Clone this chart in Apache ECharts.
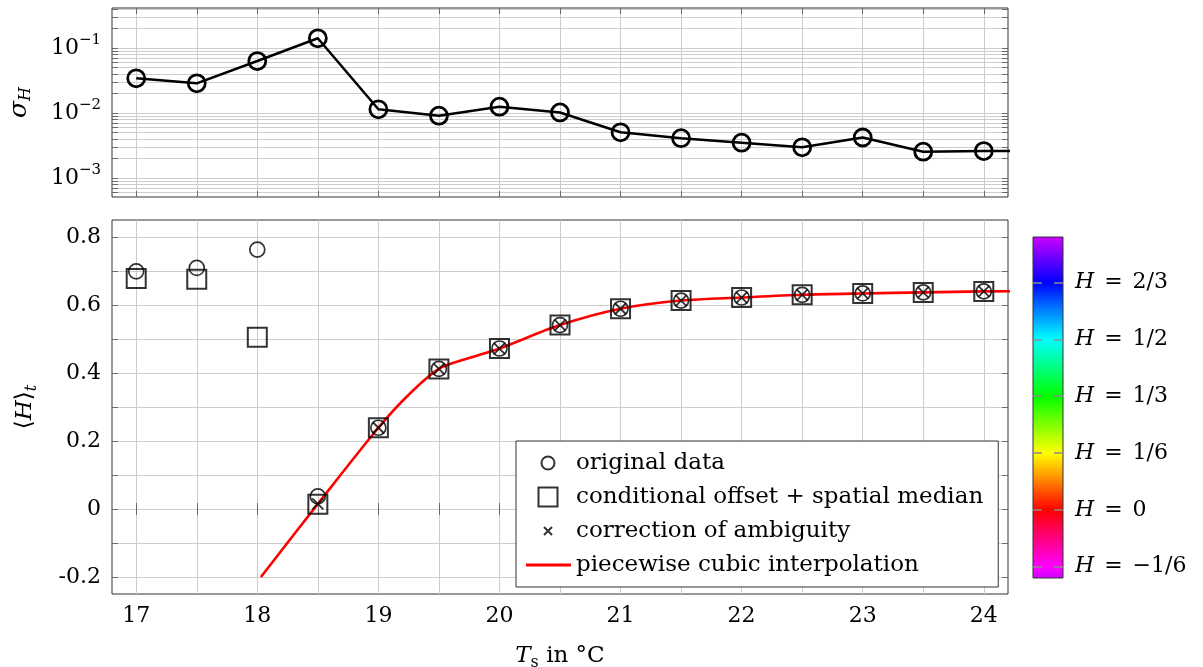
<!DOCTYPE html>
<html><head><meta charset="utf-8">
<script src="https://cdn.jsdelivr.net/npm/echarts@6/dist/echarts.min.js"></script>
<style>html,body{margin:0;padding:0;background:#fff}#c{width:1203px;height:667px}</style>
</head><body><div id="c"></div>
<script>
// ---------- data ----------
const temps = [17, 17.5, 18, 18.5, 19, 19.5, 20, 20.5, 21, 21.5, 22, 22.5, 23, 23.5, 24];
const sigmaTemps = [17, 17.5, 18, 18.5, 19, 19.5, 20, 20.5, 21, 21.5, 22, 22.5, 23, 23.5, 24, 24.5];
const sigmaH = [0.0342, 0.0286, 0.063, 0.141, 0.0114, 0.0091, 0.0125, 0.0102, 0.00505, 0.0041, 0.00349, 0.00297, 0.0042, 0.00254, 0.0026, 0.0026];
const originalH = [0.699, 0.709, 0.763, 0.037, 0.239, 0.412, 0.472, 0.541, 0.589, 0.613, 0.622, 0.630, 0.634, 0.637, 0.640];
const offsetMedianH = [0.678, 0.676, 0.505, 0.014, 0.239, 0.412, 0.472, 0.541, 0.589, 0.613, 0.622, 0.630, 0.634, 0.637, 0.640];
const correctedH = [null, null, null, 0.015, 0.239, 0.412, 0.472, 0.541, 0.589, 0.613, 0.622, 0.630, 0.634, 0.637, 0.640];
const interpTemps = [18.03, 18.5, 19, 19.25, 19.5, 19.75, 20, 20.5, 21, 21.5, 22, 22.5, 23, 23.5, 24, 24.5];
const interpH = [-0.2, 0.015, 0.239, 0.336, 0.412, 0.444, 0.472, 0.541, 0.589, 0.613, 0.622, 0.630, 0.634, 0.637, 0.640, 0.641];

const xTickValues = [17, 17.5, 18, 18.5, 19, 19.5, 20, 20.5, 21, 21.5, 22, 22.5, 23, 23.5, 24];
const xLabelValues = [17, 18, 19, 20, 21, 22, 23, 24];
const sigmaTickValues = [6e-4, 7e-4, 8e-4, 9e-4, 1e-3, 2e-3, 3e-3, 4e-3, 5e-3, 6e-3, 7e-3, 8e-3, 9e-3,
  1e-2, 2e-2, 3e-2, 4e-2, 5e-2, 6e-2, 7e-2, 8e-2, 9e-2, 1e-1, 2e-1, 3e-1, 4e-1];
const sigmaLabelValues = [1e-3, 1e-2, 1e-1];
const hTickValues = [-0.2, -0.1, 0, 0.1, 0.2, 0.3, 0.4, 0.5, 0.6, 0.7, 0.8];
const hLabelValues = [-0.2, 0, 0.2, 0.4, 0.6, 0.8];
const colorbarValues = [-1/6, 0, 1/6, 1/3, 1/2, 2/3];
const colorbarLabels = ['−1/6', '0', '1/6', '1/3', '1/2', '2/3'];
const colorbarStopValues = [-0.2, -1/6, 0, 1/6, 1/3, 1/2, 2/3, 0.8];
const colorbarStopColors = ['#cc00ff', '#ff00ff', '#ff0000', '#ffff00', '#00ff00', '#00ffff', '#0000ff', '#cc00ff'];
const seriesNames = ['original data', 'conditional offset + spatial median', 'correction of ambiguity', 'piecewise cubic interpolation'];

// ---------- helpers ----------
const FONT = "'DejaVu Serif', 'Liberation Serif', serif";
const FS = 23;
const lg = v => Math.log10(v);
const pair = (xs, ys) => xs.map((x, i) => [x, ys[i]]);
function svgIcon(inner) {
  return 'image://data:image/svg+xml;charset=utf-8,' + encodeURIComponent(
    '<svg xmlns="http://www.w3.org/2000/svg" width="45" height="22" viewBox="0 0 45 22">' + inner + '</svg>');
}
const GRID_COL = '#cdcdcd';
const TICK_COL = '#6a6a6a';
const X_MIN = 16.8, X_MAX = 24.2;

function xAx(grid, pos, labels) {
  return {
    type: 'value', gridIndex: grid, position: pos, min: X_MIN, max: X_MAX,
    axisLine: { show: false },
    axisTick: { show: true, inside: true, length: 6, customValues: xTickValues, lineStyle: { color: TICK_COL } },
    axisLabel: labels ? { show: true, customValues: xLabelValues, margin: 11, fontFamily: FONT, fontSize: FS - 1, color: '#000' } : { show: false },
    splitLine: { show: pos === 'bottom', lineStyle: { color: GRID_COL, width: 1 } }
  };
}

const chart = echarts.init(document.getElementById('c'));
const option = {
  backgroundColor: '#fff',
  animation: false,
  grid: [
    { left: 112, top: 8, width: 896, height: 189, outerBoundsMode: 'none', containLabel: false, show: true, borderColor: '#333', borderWidth: 1, backgroundColor: 'transparent' },
    { left: 112, top: 220, width: 896, height: 374, outerBoundsMode: 'none', containLabel: false, show: true, borderColor: '#333', borderWidth: 1, backgroundColor: 'transparent' },
    { left: 1033, top: 237, width: 30, height: 341, outerBoundsMode: 'none', containLabel: false, show: true, borderColor: '#333', borderWidth: 1,
      backgroundColor: new echarts.graphic.LinearGradient(0, 1, 0, 0,
        colorbarStopValues.map((v, i) => ({ offset: (v - colorbarStopValues[0]) / (colorbarStopValues[colorbarStopValues.length - 1] - colorbarStopValues[0]), color: colorbarStopColors[i] }))) }
  ],
  xAxis: [
    xAx(0, 'bottom', false),
    xAx(0, 'top', false),
    Object.assign(xAx(1, 'bottom', true), {
      name: '{i|T}{sub|s} in °C', nameLocation: 'middle', nameGap: 47,
      nameTextStyle: { fontFamily: FONT, fontSize: FS, color: '#000',
        rich: { i: { fontFamily: FONT, fontStyle: 'italic', fontSize: FS }, sub: { fontFamily: FONT, fontSize: 16, verticalAlign: 'bottom', lineHeight: 30 } } }
    }),
    xAx(1, 'top', false),
    { type: 'value', gridIndex: 2, min: 0, max: 1, show: false }
  ],
  yAxis: [
    {
      type: 'value', gridIndex: 0, position: 'left', min: -3.292, max: -0.385,
      name: '{i|σ}{sub|H}', nameLocation: 'middle', nameRotate: 90, nameGap: 78,
      nameTextStyle: { fontFamily: FONT, fontSize: FS, color: '#000',
        rich: { i: { fontFamily: FONT, fontStyle: 'italic', fontSize: 25 }, sub: { fontFamily: FONT, fontStyle: 'italic', fontSize: 16, verticalAlign: 'bottom', lineHeight: 30 } } },
      axisLine: { show: false },
      axisTick: { show: true, inside: true, length: 6, customValues: sigmaTickValues.map(lg), lineStyle: { color: TICK_COL } },
      axisLabel: {
        show: true, customValues: sigmaLabelValues.map(lg), margin: 11, fontFamily: FONT, fontSize: FS - 1, color: '#000', lineHeight: 30,
        formatter: v => '10{sup|−' + Math.round(-v) + '}',
        rich: { sup: { fontFamily: FONT, fontSize: 15, verticalAlign: 'top', color: '#000' } }
      },
      splitLine: { show: true, lineStyle: { color: GRID_COL, width: 1 } }
    },
    {
      type: 'value', gridIndex: 0, position: 'right', min: -3.292, max: -0.385,
      axisLine: { show: false },
      axisTick: { show: true, inside: true, length: 6, customValues: sigmaTickValues.map(lg), lineStyle: { color: TICK_COL } },
      axisLabel: { show: false }, splitLine: { show: false }
    },
    {
      type: 'value', gridIndex: 1, position: 'left', min: -0.25, max: 0.85,
      name: '⟨{i|H}⟩{sub|t}', nameLocation: 'middle', nameRotate: 90, nameGap: 72,
      nameTextStyle: { fontFamily: FONT, fontSize: FS, color: '#000',
        rich: { i: { fontFamily: FONT, fontStyle: 'italic', fontSize: FS }, sub: { fontFamily: FONT, fontStyle: 'italic', fontSize: 16, verticalAlign: 'bottom', lineHeight: 30 } } },
      axisLine: { show: false },
      axisTick: { show: true, inside: true, length: 6, customValues: hTickValues, lineStyle: { color: TICK_COL } },
      axisLabel: { show: true, customValues: hLabelValues, margin: 11, fontFamily: FONT, fontSize: FS - 1, color: '#000',
        formatter: v => (Math.abs(v) < 1e-9 ? '0' : String(+v.toFixed(1))) },
      splitLine: { show: true, lineStyle: { color: GRID_COL, width: 1 } }
    },
    {
      type: 'value', gridIndex: 1, position: 'right', min: -0.25, max: 0.85,
      axisLine: { show: false },
      axisTick: { show: true, inside: true, length: 6, customValues: hTickValues, lineStyle: { color: TICK_COL } },
      axisLabel: { show: false }, splitLine: { show: false }
    },
    {
      type: 'value', gridIndex: 2, position: 'right', min: -0.2, max: 0.8,
      axisLine: { show: false },
      axisTick: { show: false, customValues: colorbarValues },
      axisLabel: { show: true, customValues: colorbarValues, margin: 12, fontFamily: FONT, fontSize: FS - 1, color: '#000',
        formatter: v => { let k = 0; colorbarValues.forEach((c, i) => { if (Math.abs(c - v) < Math.abs(colorbarValues[k] - v)) k = i; }); return '{i|H} {eq|=} ' + colorbarLabels[k]; },
        rich: { i: { fontFamily: FONT, fontStyle: 'italic', fontSize: FS - 1, color: '#000' },
                eq: { fontFamily: FONT, fontSize: FS - 1, color: '#000', padding: [0, 3, 0, 3] } } },
      splitLine: { show: true, lineStyle: { color: '#8a8a8a', width: 1.5, type: [9, 12] } }
    }
  ],
  legend: {
    show: true, orient: 'vertical', left: 516, top: 441,
    backgroundColor: '#fff', borderColor: '#333', borderWidth: 1,
    padding: [9, 15, 9, 10], itemGap: 8, itemWidth: 45, itemHeight: 22,
    textStyle: { fontFamily: FONT, fontSize: FS, color: '#000', lineHeight: 26 },
    data: [
      { name: seriesNames[0], icon: svgIcon('<circle cx="22" cy="11" r="6.5" fill="none" stroke="#000" stroke-width="2"/>') },
      { name: seriesNames[1], icon: svgIcon('<rect x="12.5" y="1.5" width="19" height="19" fill="none" stroke="#000" stroke-width="2"/>') },
      { name: seriesNames[2], icon: svgIcon('<path d="M18 7L26 15M26 7L18 15" stroke="#000" stroke-width="2" fill="none"/>') },
      { name: seriesNames[3], icon: svgIcon('<line x1="0" y1="11" x2="45" y2="11" stroke="#ff0000" stroke-width="3"/>') }
    ]
  },
  series: [
    {
      type: 'line', name: 'sigma', xAxisIndex: 0, yAxisIndex: 0, clip: true,
      data: pair(sigmaTemps, sigmaH.map(lg)),
      symbol: 'circle', symbolSize: 17, showAllSymbol: true,
      lineStyle: { color: '#000', width: 2.5 },
      itemStyle: { color: 'rgba(0,0,0,0)', borderColor: '#000', borderWidth: 2.8 },
      z: 3
    },
    {
      type: 'line', name: seriesNames[3], xAxisIndex: 2, yAxisIndex: 2, clip: true,
      data: pair(interpTemps, interpH), smooth: 0.3, showSymbol: false, symbol: 'none',
      lineStyle: { color: '#ff0000', width: 2.6 }, itemStyle: { color: '#ff0000' }, z: 2
    },
    {
      type: 'scatter', name: seriesNames[0], xAxisIndex: 2, yAxisIndex: 2,
      data: pair(temps, originalH), symbol: 'circle', symbolSize: 15,
      itemStyle: { color: 'rgba(0,0,0,0)', borderColor: '#000', borderWidth: 1.7 }, z: 3
    },
    {
      type: 'scatter', name: seriesNames[1], xAxisIndex: 2, yAxisIndex: 2,
      data: pair(temps, offsetMedianH), symbol: 'rect', symbolSize: 19,
      itemStyle: { color: 'rgba(0,0,0,0)', borderColor: '#000', borderWidth: 2 }, z: 3
    },
    {
      type: 'scatter', name: seriesNames[2], xAxisIndex: 2, yAxisIndex: 2,
      data: pair(temps, correctedH).filter(d => d[1] !== null),
      symbol: 'path://M0,0L10,10M10,0L0,10', symbolSize: 11,
      itemStyle: { color: 'rgba(0,0,0,0)', borderColor: '#000', borderWidth: 1.8 }, z: 4
    }
  ]
};
chart.setOption(option);
</script>
</body></html>
